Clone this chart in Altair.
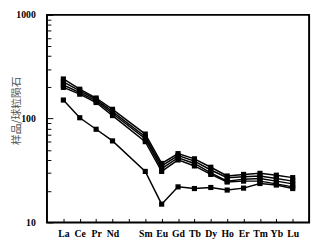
import altair as alt
import pandas as pd

elements = ['La', 'Ce', 'Pr', 'Nd', 'Pm', 'Sm', 'Eu', 'Gd', 'Tb', 'Dy', 'Ho', 'Er', 'Tm', 'Yb', 'Lu']
x_idx = [0, 1, 2, 3, 5, 6, 7, 8, 9, 10, 11, 12, 13, 14]  # Pm (4) has no value

s1 = [241, 192, 158, 123, 71, 37, 46, 41, 34, 28, 29, 29.7, 28.5, 27]
s2 = [226, 185, 153, 117, 67, 35, 44, 39, 32, 27, 27.5, 28, 26.5, 25]
s3 = [211, 178, 148, 112, 64, 33, 42, 37, 30, 25, 26, 26.5, 25, 23.5]
s4 = [200, 172, 143, 107, 60, 31, 40, 35, 29, 24.5, 25, 25, 23.5, 22]
s5 = [151, 102, 79, 61, 31, 15, 22, 21.2, 21.7, 20.5, 21.4, 23.7, 22.9, 21.2]

series = {'s1': s1, 's2': s2, 's3': s3, 's4': s4, 's5': s5}
rows = []
for name, vals in series.items():
    for i, v in zip(x_idx, vals):
        rows.append({'s': name, 'idx': i, 'val': v})
df = pd.DataFrame(rows)

major_vals = [10, 100, 1000]
minor_vals = [m * d for d in (10, 100) for m in range(2, 10)]

label_expr = "[" + ",".join("'" + ("" if e == "Pm" else e) + "'" for e in elements) + "][datum.value]"

xscale = alt.Scale(domain=[-1, 15], nice=False, zero=False)
yscale = alt.Scale(type='log', domain=[10, 1000], nice=False)

serif = 'Liberation Serif'
base = alt.Chart(df)

main = base.mark_line(
    color='black', strokeWidth=1.5,
    point=alt.OverlayMarkDef(shape='square', filled=True, color='black', size=28, opacity=1)
).encode(
    x=alt.X('idx:Q', scale=xscale, axis=alt.Axis(
        values=list(range(15)), labelExpr=label_expr, ticks=False, tickSize=0, domain=False, grid=False,
        labelFont=serif, labelFontWeight='bold', labelFontSize=10, labelColor='black',
        labelPadding=6, title=None, orient='bottom')),
    y=alt.Y('val:Q', scale=yscale, axis=alt.Axis(
        values=major_vals, format='d', ticks=False, tickSize=0, domain=False, grid=False,
        labelFont=serif, labelFontWeight='bold', labelFontSize=10, labelColor='black',
        labelPadding=12, title='样品/球粒陨石', titleFont='Noto Sans CJK SC', titleFontSize=11,
        titleFontWeight='normal', titleColor='#555555', titleAngle=270, titleBaseline='top',
        titleAlign='center', titleX=-37, titleY=98, orient='left')),
    detail='s:N'
)

minor = base.mark_point(opacity=0).encode(
    x=alt.X('idx:Q', scale=xscale, axis=alt.Axis(
        values=list(range(15)), labels=False, domain=False, grid=False, tickSize=4, offset=-4,
        tickColor='black', tickWidth=1, title=None, orient='bottom')),
    y=alt.Y('val:Q', scale=yscale, axis=alt.Axis(
        values=minor_vals, labels=False, domain=False, grid=False, tickSize=4, offset=-4,
        tickColor='black', tickWidth=1, title=None, orient='left')),
)

major = base.mark_point(opacity=0).encode(
    x=alt.X('idx:Q', scale=xscale, axis=None),
    y=alt.Y('val:Q', scale=yscale, axis=alt.Axis(
        values=major_vals, labels=False, domain=False, grid=False, tickSize=6, offset=-6,
        tickColor='black', tickWidth=1, title=None, orient='left')),
)

chart = alt.layer(main, minor, major).resolve_axis(
    x='independent', y='independent'
).properties(
    width=269, height=213,
    autosize=alt.AutoSizeParams(type='none'),
    padding={'left': 40, 'top': 4, 'right': 4, 'bottom': 14}
).configure_view(stroke='black', strokeWidth=2)

chart.save("out.html", embed_options={"renderer": "svg", "actions": False})
